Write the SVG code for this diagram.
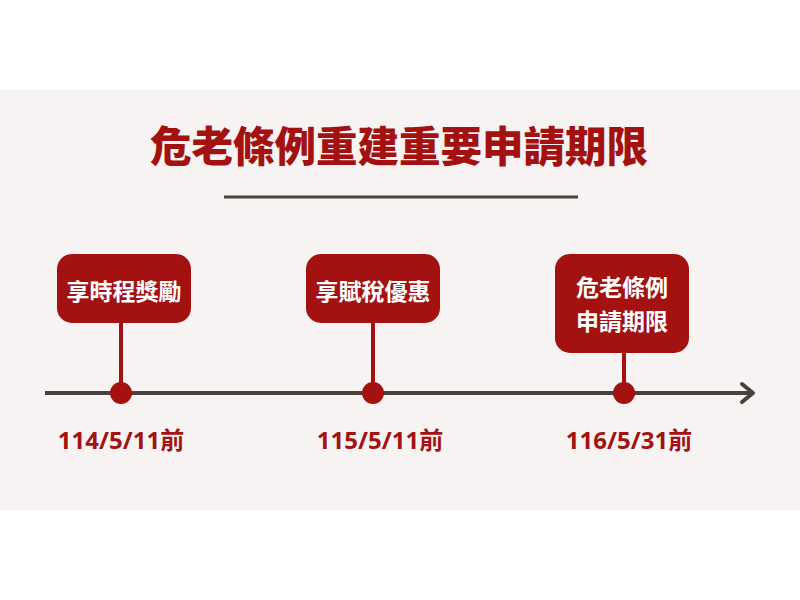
<svg xmlns="http://www.w3.org/2000/svg" width="800" height="600" viewBox="0 0 800 600">
<defs>
<style>
.box{fill:#a31211}
.stem{stroke:#a31211;stroke-width:4}
.dot{fill:#a31211}
.lbl{fill:#ffffff;font-family:"Noto Sans CJK TC","Noto Sans",sans-serif;font-weight:700;font-size:23px;text-anchor:middle}
.date{fill:#a31211;font-family:"Noto Sans","Noto Sans CJK TC",sans-serif;font-weight:700;font-size:24px;text-anchor:middle}
.title{fill:#a31211;font-family:"Noto Sans CJK TC",sans-serif;font-weight:900;font-size:41.5px;text-anchor:middle}
</style>
</defs>
<rect x="0" y="0" width="800" height="600" fill="#ffffff"/>
<rect x="0" y="90" width="800" height="420" fill="#f7f3f3"/>
<text class="title" x="399" y="162">危老條例重建重要申請期限</text>
<line x1="224" y1="197" x2="578" y2="197" stroke="#4a3f3f" stroke-width="3"/>
<g id="connectors">
<line x1="45" y1="393" x2="752" y2="393" stroke="#4a4040" stroke-width="4"/>
<polyline points="742,384 753,393 742,402" fill="none" stroke="#4a4040" stroke-width="4" stroke-linecap="round" stroke-linejoin="round"/>
<line class="stem" x1="121" y1="320" x2="121" y2="393"/>
<line class="stem" x1="373" y1="320" x2="373" y2="393"/>
<line class="stem" x1="624" y1="350" x2="624" y2="393"/>
</g>
<g id="node1">
<rect class="box" x="57" y="254" width="134" height="69" rx="15"/>
<text class="lbl" x="124" y="300">享時程獎勵</text>
<circle class="dot" cx="121" cy="393" r="11"/>
<text class="date" x="121" y="449">114/5/11前</text>
</g>
<g id="node2">
<rect class="box" x="306" y="254" width="134" height="69" rx="15"/>
<text class="lbl" x="373" y="300">享賦稅優惠</text>
<circle class="dot" cx="373" cy="393" r="11"/>
<text class="date" x="380" y="449">115/5/11前</text>
</g>
<g id="node3">
<rect class="box" x="555" y="254" width="134" height="99" rx="15"/>
<text class="lbl" x="622" y="296">危老條例</text>
<text class="lbl" x="622" y="330">申請期限</text>
<circle class="dot" cx="624" cy="393" r="11"/>
<text class="date" x="629" y="449">116/5/31前</text>
</g>
</svg>
